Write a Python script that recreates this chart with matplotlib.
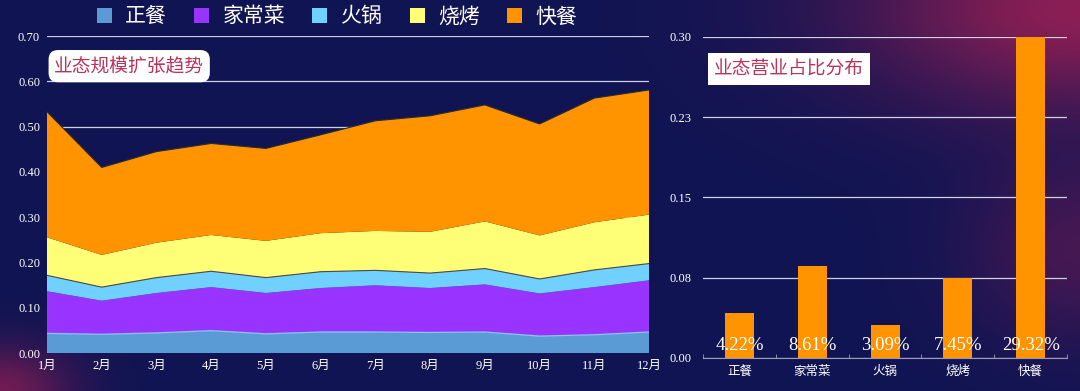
import numpy as np
import matplotlib.pyplot as plt
from matplotlib.patches import Patch

plt.rcParams['font.family'] = ['Noto Sans CJK SC', 'DejaVu Sans']

# data
months = ['1月', '2月', '3月', '4月', '5月', '6月', '7月', '8月', '9月', '10月', '11月', '12月']
series_names = ['正餐', '家常菜', '火锅', '烧烤', '快餐']
zhengcan = [0.044, 0.042, 0.045, 0.050, 0.043, 0.047, 0.047, 0.046, 0.047, 0.038, 0.041, 0.047]
jiachangcai = [0.093, 0.074, 0.088, 0.096, 0.090, 0.097, 0.103, 0.098, 0.105, 0.094, 0.105, 0.114]
huoguo = [0.035, 0.030, 0.034, 0.035, 0.034, 0.036, 0.033, 0.033, 0.035, 0.032, 0.038, 0.037]
shaokao = [0.084, 0.071, 0.077, 0.080, 0.081, 0.085, 0.087, 0.091, 0.104, 0.096, 0.105, 0.108]
kuaican = [0.277, 0.193, 0.201, 0.202, 0.204, 0.217, 0.243, 0.256, 0.257, 0.246, 0.274, 0.275]

share_values = [0.0422, 0.0861, 0.0309, 0.0745, 0.30]
share_labels = ['4.22%', '8.61%', '3.09%', '7.45%', '29.32%']

colors = ['#5b9bd5', '#9933ff', '#70d0ff', '#ffff77', '#ff9300']
bg = '#111452'
serif = ['Liberation Serif', 'Noto Sans CJK SC']

fig = plt.figure(figsize=(10.8, 3.91), dpi=100)
fig.patch.set_facecolor(bg)

# background with soft pink glow
h, w = 391, 1080
yy, xx = np.mgrid[0:h, 0:w]
base = np.array([17, 20, 82]) / 255.0
pink = np.array([190, 35, 85]) / 255.0
g1 = 0.7 * np.exp(-(((xx - 1080) / 220.0) ** 2 + ((yy - 10) / 100.0) ** 2))
g2 = 0.3 * np.exp(-(((xx - 1080) / 110.0) ** 2 + ((yy - 250) / 90.0) ** 2))
g3 = 0.55 * np.exp(-(((xx - 0) / 70.0) ** 2 + ((yy - 391) / 45.0) ** 2))
g = np.clip(g1 + g2 + g3, 0, 1)[..., None]
img = base * (1 - g) + pink * g
bgax = fig.add_axes([0, 0, 1, 1], zorder=-10)
bgax.imshow(img, aspect='auto', extent=[0, 1, 0, 1])
bgax.axis('off')

# ---- stacked area chart
ax = fig.add_axes([0.0435, 0.0964, 0.5575, 0.8115])
ax.set_facecolor('none')
x = np.arange(len(months))
stacks = [zhengcan, jiachangcai, huoguo, shaokao, kuaican]
ax.stackplot(x, *stacks, colors=colors, zorder=2, linewidth=0)
cum = np.cumsum(np.array(stacks), axis=0)
ax.plot(x, cum[0], color='#8ec6f2', lw=0.9, zorder=3)
ax.plot(x, cum[2], color='#4a4a4a', lw=0.8, zorder=3)
ax.plot(x, cum[4], color='#2b2b2b', lw=0.8, zorder=3)
ax.set_xlim(0, 11)
ax.set_ylim(0, 0.7)
ax.set_yticks(np.arange(0, 0.71, 0.1))
ax.set_yticklabels(['%.2f' % v for v in np.arange(0, 0.71, 0.1)])
ax.set_xticks(x)
ax.set_xticklabels(months)
ax.yaxis.grid(True, color='#d0d0e4', lw=0.9, zorder=1)
ax.set_axisbelow(True)
for s in ax.spines.values():
    s.set_visible(False)
ax.tick_params(length=0, colors='white', labelsize=9, pad=5)
for lab in ax.get_xticklabels() + ax.get_yticklabels():
    lab.set_family(serif)

ax.text(0.012, 0.905, '业态规模扩张趋势', transform=ax.transAxes, fontsize=13.5,
        color='#b8345a', va='center', ha='left', zorder=5,
        bbox=dict(boxstyle='round,pad=0.3,rounding_size=0.5', fc='white', ec='none'))

handles = [Patch(facecolor=c, edgecolor='none') for c in colors]
fig.legend(handles, series_names, loc='center', bbox_to_anchor=(0.312, 0.958), ncol=5,
           frameon=False, fontsize=15, labelcolor='white', handlelength=0.72,
           handleheight=0.72, handletextpad=0.65, columnspacing=1.3)

# ---- bar chart
bx = fig.add_axes([0.651, 0.0844, 0.337, 0.821])
bx.set_facecolor('none')
bpos = np.arange(len(series_names))
bx.bar(bpos, share_values, width=0.4, color='#ff9300', zorder=2)
bx.set_xlim(-0.5, 4.5)
bx.set_ylim(0, 0.30)
bticks = [0, 0.075, 0.15, 0.225, 0.30]
bx.set_yticks(bticks)
bx.set_yticklabels(['0.00', '0.08', '0.15', '0.23', '0.30'])
bx.set_xticks(bpos)
bx.set_xticklabels(series_names)
bx.set_xticks(np.arange(-0.5, 4.6, 1), minor=True)
bx.yaxis.grid(True, color='#d0d0e4', lw=0.9, zorder=1)
bx.set_axisbelow(True)
for name, s in bx.spines.items():
    s.set_visible(name == 'bottom')
bx.spines['bottom'].set_color('#9a9ab8')
bx.tick_params(axis='y', length=0, colors='white', labelsize=9, pad=8)
bx.tick_params(axis='x', which='major', length=0, colors='white', labelsize=9, pad=5)
bx.tick_params(axis='x', which='minor', length=3, color='#9a9ab8', direction='in')
for lab in bx.get_yticklabels():
    lab.set_family(serif)
for i, t in enumerate(share_labels):
    bx.text(bpos[i], 0.004, t, ha='center', va='bottom', color='white',
            fontsize=13.5, family=serif, zorder=4)

bx.text(0.03, 0.9, '业态营业占比分布', transform=bx.transAxes, fontsize=13.5,
        color='#b8345a', va='center', ha='left', zorder=5,
        bbox=dict(boxstyle='square,pad=0.3', fc='white', ec='none'))

fig.savefig('out.png', dpi=100, facecolor=bg)
